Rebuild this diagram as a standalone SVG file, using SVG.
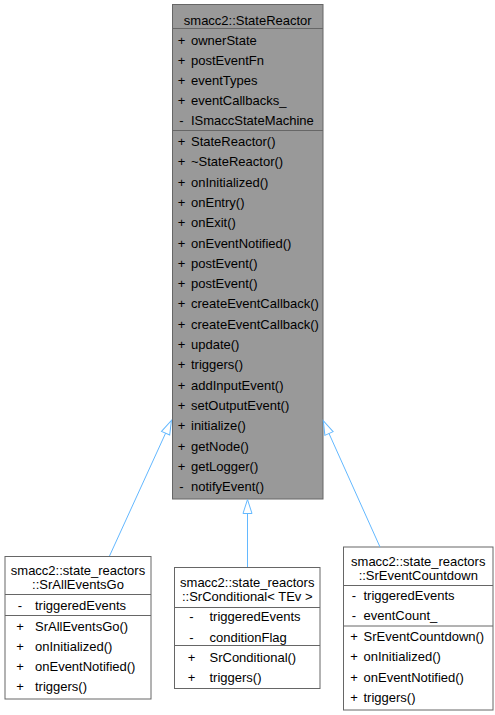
<svg xmlns="http://www.w3.org/2000/svg" width="495" height="715" viewBox="0 0 495 715">
<style>
  text { font-family: "Liberation Sans", Arial, Helvetica, sans-serif; font-size: 13px; fill: #000000; }
  .t { text-anchor: middle; }
  .m { text-anchor: middle; }
  .box { fill: #ffffff; stroke: #666666; stroke-width: 1; }
  .main { fill: #999999; stroke: #666666; stroke-width: 1; }
  .sep { stroke: #666666; stroke-width: 1; fill: none; }
  .edge { stroke: #63b8ff; stroke-width: 1; fill: none; }
</style>
<defs>
  <marker id="inh" viewBox="-1 -6 17 12" markerWidth="17" markerHeight="12" refX="0" refY="0" orient="auto" markerUnits="userSpaceOnUse">
    <path d="M0,-4.5 L14,0 L0,4.5 Z" fill="none" stroke="#63b8ff" stroke-width="1"/>
  </marker>
</defs>
<rect width="495" height="715" fill="#ffffff"/>

<g id="node-StateReactor">
  <rect class="main" x="172.5" y="4.5" width="150.5" height="494.5"/>
  <line class="sep" x1="172.5" y1="28.5" x2="323" y2="28.5"/>
  <line class="sep" x1="172.5" y1="130.5" x2="323" y2="130.5"/>
  <text class="t" x="247.75" y="24.5">smacc2::StateReactor</text>
  <text class="m" x="181.5" y="45">+</text><text x="191" y="45">ownerState</text>
  <text class="m" x="181.5" y="65">+</text><text x="191" y="65">postEventFn</text>
  <text class="m" x="181.5" y="85">+</text><text x="191" y="85">eventTypes</text>
  <text class="m" x="181.5" y="105">+</text><text x="191" y="105">eventCallbacks_</text>
  <text class="m" x="181.5" y="125">-</text><text x="191" y="125">ISmaccStateMachine</text>
  <text class="m" x="181.5" y="146">+</text><text x="191" y="146">StateReactor()</text>
  <text class="m" x="181.5" y="166.3">+</text><text x="191" y="166.3">~StateReactor()</text>
  <text class="m" x="181.5" y="186.6">+</text><text x="191" y="186.6">onInitialized()</text>
  <text class="m" x="181.5" y="206.9">+</text><text x="191" y="206.9">onEntry()</text>
  <text class="m" x="181.5" y="227.2">+</text><text x="191" y="227.2">onExit()</text>
  <text class="m" x="181.5" y="247.5">+</text><text x="191" y="247.5">onEventNotified()</text>
  <text class="m" x="181.5" y="267.8">+</text><text x="191" y="267.8">postEvent()</text>
  <text class="m" x="181.5" y="288.1">+</text><text x="191" y="288.1">postEvent()</text>
  <text class="m" x="181.5" y="308.4">+</text><text x="191" y="308.4">createEventCallback()</text>
  <text class="m" x="181.5" y="328.7">+</text><text x="191" y="328.7">createEventCallback()</text>
  <text class="m" x="181.5" y="349">+</text><text x="191" y="349">update()</text>
  <text class="m" x="181.5" y="369.3">+</text><text x="191" y="369.3">triggers()</text>
  <text class="m" x="181.5" y="389.6">+</text><text x="191" y="389.6">addInputEvent()</text>
  <text class="m" x="181.5" y="409.9">+</text><text x="191" y="409.9">setOutputEvent()</text>
  <text class="m" x="181.5" y="430.2">+</text><text x="191" y="430.2">initialize()</text>
  <text class="m" x="181.5" y="450.5">+</text><text x="191" y="450.5">getNode()</text>
  <text class="m" x="181.5" y="470.8">+</text><text x="191" y="470.8">getLogger()</text>
  <text class="m" x="181.5" y="491.1">-</text><text x="191" y="491.1">notifyEvent()</text>
</g>

<g id="node-SrAllEventsGo">
  <rect class="box" x="5" y="556.5" width="146" height="142.5"/>
  <line class="sep" x1="5" y1="594.5" x2="151" y2="594.5"/>
  <line class="sep" x1="5" y1="615.5" x2="151" y2="615.5"/>
  <text class="t" x="78" y="575">smacc2::state_reactors</text>
  <text class="t" x="78" y="589">::SrAllEventsGo</text>
  <text class="m" x="20" y="610">-</text><text x="35" y="610">triggeredEvents</text>
  <text class="m" x="20" y="630.5">+</text><text x="35" y="630.5">SrAllEventsGo()</text>
  <text class="m" x="20" y="651">+</text><text x="35" y="651">onInitialized()</text>
  <text class="m" x="20" y="671">+</text><text x="35" y="671">onEventNotified()</text>
  <text class="m" x="20" y="691">+</text><text x="35" y="691">triggers()</text>
</g>

<g id="node-SrConditional">
  <rect class="box" x="174.5" y="567.5" width="145.5" height="121"/>
  <line class="sep" x1="174.5" y1="607.5" x2="320" y2="607.5"/>
  <line class="sep" x1="174.5" y1="645.5" x2="320" y2="645.5"/>
  <text class="t" x="247.25" y="586.5">smacc2::state_reactors</text>
  <text class="t" x="247.25" y="600.5">::SrConditional&lt; TEv &gt;</text>
  <text class="m" x="191.5" y="621">-</text><text x="209.5" y="621">triggeredEvents</text>
  <text class="m" x="191.5" y="641.5">-</text><text x="209.5" y="641.5">conditionFlag</text>
  <text class="m" x="191.5" y="662">+</text><text x="209.5" y="662">SrConditional()</text>
  <text class="m" x="191.5" y="682">+</text><text x="209.5" y="682">triggers()</text>
</g>

<g id="node-SrEventCountdown">
  <rect class="box" x="343.5" y="547" width="149.5" height="163"/>
  <line class="sep" x1="343.5" y1="585.5" x2="493" y2="585.5"/>
  <line class="sep" x1="343.5" y1="626" x2="493" y2="626"/>
  <text class="t" x="418.25" y="566">smacc2::state_reactors</text>
  <text class="t" x="418.25" y="580">::SrEventCountdown</text>
  <text class="m" x="354" y="600">-</text><text x="363.5" y="600">triggeredEvents</text>
  <text class="m" x="354" y="620">-</text><text x="363.5" y="620">eventCount_</text>
  <text class="m" x="354" y="641">+</text><text x="363.5" y="641">SrEventCountdown()</text>
  <text class="m" x="354" y="661">+</text><text x="363.5" y="661">onInitialized()</text>
  <text class="m" x="354" y="681.5">+</text><text x="363.5" y="681.5">onEventNotified()</text>
  <text class="m" x="354" y="701.5">+</text><text x="363.5" y="701.5">triggers()</text>
</g>

<g id="connectors">
  <line class="edge" x1="109.5" y1="556" x2="165.6" y2="433.2" marker-end="url(#inh)"/>
  <line class="edge" x1="247.5" y1="567" x2="247.5" y2="513.5" marker-end="url(#inh)"/>
  <line class="edge" x1="380" y1="547" x2="329" y2="433.5" marker-end="url(#inh)"/>
</g>
</svg>
